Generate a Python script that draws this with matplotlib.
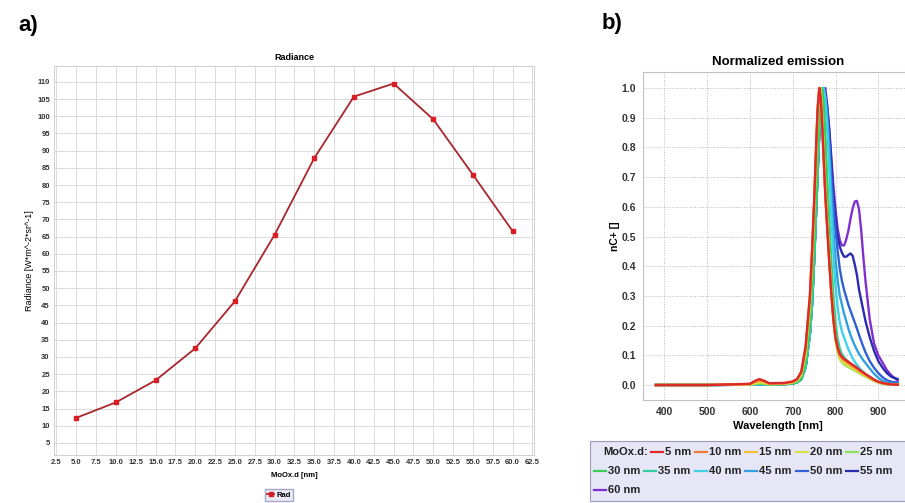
import numpy as np
import matplotlib
matplotlib.use('Agg')
import matplotlib.pyplot as plt
from matplotlib.lines import Line2D
from matplotlib.patches import Rectangle

plt.rcParams['font.family'] = ['Liberation Sans', 'DejaVu Sans']

# ---- panel a) radiance vs MoOx thickness
thick = [5, 10, 15, 20, 25, 30, 35, 40, 45, 50, 55, 60]
radiance = [12.3, 16.8, 23.2, 32.5, 46.2, 65.5, 87.8, 105.7, 109.5, 99.1, 83.0, 66.6]

# ---- panel b) normalized emission spectra
wl = [380, 500, 600, 612, 622, 632, 645, 680, 700, 710, 720, 730, 740, 745, 750, 755,
      758, 762, 765, 768, 772, 776, 780, 785, 790, 795, 800, 805, 810, 815, 820, 825,
      830, 835, 840, 845, 850, 855, 860, 865, 870, 880, 890, 900, 910, 920, 930, 945]

s5 = [0.000, 0.000, 0.004, 0.014, 0.020, 0.015, 0.006, 0.007, 0.012, 0.020, 0.045, 0.130,
      0.300, 0.450, 0.620, 0.820, 0.930, 1.000, 0.970, 0.900, 0.770, 0.640, 0.540, 0.420,
      0.310, 0.220, 0.160, 0.125, 0.105, 0.095, 0.088, 0.083, 0.078, 0.073, 0.068, 0.063,
      0.058, 0.052, 0.047, 0.042, 0.037, 0.028, 0.018, 0.011, 0.007, 0.004, 0.002, 0.001]
s10 = [0.000, 0.000, 0.003, 0.012, 0.017, 0.013, 0.005, 0.006, 0.011, 0.019, 0.043, 0.125,
       0.295, 0.445, 0.615, 0.815, 0.925, 1.000, 0.972, 0.905, 0.775, 0.645, 0.545, 0.425,
       0.312, 0.220, 0.158, 0.122, 0.102, 0.092, 0.085, 0.080, 0.075, 0.070, 0.065, 0.060,
       0.055, 0.050, 0.045, 0.040, 0.035, 0.026, 0.017, 0.010, 0.006, 0.004, 0.002, 0.001]
s15 = [0.000, 0.000, 0.003, 0.009, 0.013, 0.010, 0.004, 0.005, 0.010, 0.018, 0.040, 0.120,
       0.290, 0.440, 0.610, 0.810, 0.920, 1.000, 0.975, 0.910, 0.780, 0.650, 0.548, 0.428,
       0.315, 0.220, 0.155, 0.118, 0.097, 0.087, 0.080, 0.075, 0.070, 0.065, 0.060, 0.056,
       0.051, 0.046, 0.042, 0.037, 0.033, 0.024, 0.016, 0.010, 0.006, 0.003, 0.002, 0.001]
s20 = [0.000, 0.000, 0.002, 0.006, 0.009, 0.007, 0.003, 0.004, 0.009, 0.016, 0.037, 0.112,
       0.280, 0.430, 0.600, 0.800, 0.915, 1.000, 0.978, 0.915, 0.790, 0.660, 0.555, 0.432,
       0.318, 0.218, 0.150, 0.112, 0.090, 0.080, 0.073, 0.068, 0.063, 0.059, 0.055, 0.051,
       0.047, 0.042, 0.038, 0.034, 0.030, 0.022, 0.015, 0.009, 0.005, 0.003, 0.002, 0.001]
s25 = [0.000, 0.000, 0.002, 0.004, 0.006, 0.005, 0.003, 0.004, 0.008, 0.014, 0.032, 0.100,
       0.260, 0.400, 0.570, 0.770, 0.890, 0.990, 1.000, 0.940, 0.810, 0.680, 0.570, 0.445,
       0.328, 0.225, 0.152, 0.110, 0.087, 0.076, 0.069, 0.064, 0.060, 0.056, 0.052, 0.048,
       0.044, 0.040, 0.036, 0.032, 0.028, 0.021, 0.014, 0.009, 0.005, 0.003, 0.002, 0.001]
s30 = [0.000, 0.000, 0.001, 0.003, 0.004, 0.003, 0.002, 0.003, 0.006, 0.010, 0.022, 0.070,
       0.200, 0.310, 0.460, 0.640, 0.760, 0.900, 0.970, 1.000, 0.940, 0.810, 0.670, 0.510,
       0.370, 0.255, 0.175, 0.125, 0.097, 0.084, 0.076, 0.070, 0.065, 0.060, 0.056, 0.052,
       0.048, 0.043, 0.039, 0.034, 0.030, 0.022, 0.014, 0.009, 0.005, 0.003, 0.002, 0.001]
s35 = [0.000, 0.000, 0.001, 0.003, 0.004, 0.003, 0.002, 0.003, 0.006, 0.010, 0.021, 0.068,
       0.195, 0.300, 0.450, 0.630, 0.750, 0.890, 0.965, 1.000, 0.960, 0.840, 0.710, 0.560,
       0.420, 0.300, 0.210, 0.155, 0.122, 0.104, 0.093, 0.085, 0.078, 0.072, 0.066, 0.060,
       0.055, 0.049, 0.044, 0.039, 0.034, 0.025, 0.017, 0.011, 0.006, 0.004, 0.002, 0.001]
s40 = [0.000, 0.000, 0.001, 0.002, 0.003, 0.002, 0.002, 0.003, 0.005, 0.009, 0.020, 0.060,
       0.170, 0.270, 0.420, 0.600, 0.710, 0.850, 0.930, 0.980, 1.000, 0.960, 0.880, 0.740,
       0.580, 0.440, 0.330, 0.260, 0.210, 0.180, 0.160, 0.140, 0.120, 0.105, 0.090, 0.078,
       0.068, 0.059, 0.051, 0.044, 0.037, 0.027, 0.018, 0.011, 0.007, 0.004, 0.002, 0.001]
s45 = [0.000, 0.000, 0.001, 0.002, 0.003, 0.002, 0.002, 0.003, 0.005, 0.009, 0.020, 0.060,
       0.170, 0.270, 0.420, 0.600, 0.710, 0.850, 0.930, 0.980, 1.000, 0.970, 0.910, 0.790,
       0.650, 0.520, 0.420, 0.350, 0.300, 0.270, 0.240, 0.215, 0.190, 0.168, 0.150, 0.133,
       0.118, 0.105, 0.094, 0.083, 0.074, 0.055, 0.038, 0.024, 0.014, 0.008, 0.005, 0.003]
s50 = [0.000, 0.000, 0.001, 0.002, 0.003, 0.002, 0.002, 0.003, 0.005, 0.009, 0.020, 0.060,
       0.170, 0.270, 0.420, 0.600, 0.710, 0.850, 0.930, 0.980, 1.000, 0.980, 0.930, 0.830,
       0.710, 0.600, 0.520, 0.450, 0.390, 0.350, 0.320, 0.295, 0.270, 0.250, 0.230, 0.210,
       0.190, 0.168, 0.148, 0.128, 0.110, 0.080, 0.058, 0.040, 0.026, 0.016, 0.011, 0.008]
s55 = [0.000, 0.000, 0.001, 0.002, 0.003, 0.002, 0.002, 0.003, 0.005, 0.009, 0.020, 0.060,
       0.170, 0.270, 0.420, 0.600, 0.710, 0.850, 0.930, 0.980, 1.000, 0.980, 0.940, 0.860,
       0.750, 0.640, 0.560, 0.500, 0.465, 0.445, 0.432, 0.432, 0.438, 0.443, 0.435, 0.405,
       0.370, 0.320, 0.285, 0.250, 0.215, 0.160, 0.115, 0.080, 0.058, 0.040, 0.028, 0.020]
s60 = [0.000, 0.000, 0.001, 0.002, 0.003, 0.002, 0.002, 0.003, 0.005, 0.009, 0.020, 0.060,
       0.170, 0.270, 0.420, 0.600, 0.710, 0.850, 0.930, 0.975, 0.995, 1.000, 0.950, 0.870,
       0.770, 0.670, 0.590, 0.525, 0.488, 0.470, 0.470, 0.490, 0.520, 0.560, 0.595, 0.618,
       0.620, 0.590, 0.520, 0.430, 0.350, 0.220, 0.140, 0.100, 0.075, 0.050, 0.033, 0.015]

spectra = [s5, s10, s15, s20, s25, s30, s35, s40, s45, s50, s55, s60]
labels = ['5 nm', '10 nm', '15 nm', '20 nm', '25 nm', '30 nm', '35 nm', '40 nm',
          '45 nm', '50 nm', '55 nm', '60 nm']
colors = ['#e02828', '#f07a3c', '#f2c038', '#d8e048', '#90e060', '#38d050',
          '#30d0a0', '#40d0e8', '#30a0e0', '#3060d8', '#2c2cb0', '#8030d0']

W_PX, H_PX = 905, 503
fig = plt.figure(figsize=(9.05, 5.03), dpi=100)
fig.patch.set_facecolor('white')


def box(x0, y0, x1, y1):
    # pixel box (top-left origin) -> figure fraction rect
    return [x0 / W_PX, 1 - y1 / H_PX, (x1 - x0) / W_PX, (y1 - y0) / H_PX]


# ---------------- a)
ax1 = fig.add_axes(box(54, 66, 534, 455))
ax1.plot(thick, radiance, color='#a8262c', lw=1.3, marker='s', ms=3,
         mfc='#d81e24', mec='#d81e24', label='Rad')
ax1.set_xlim(2.2, 62.7)
ax1.set_ylim(1.5, 114.6)
ax1.set_xticks(np.arange(2.5, 62.6, 2.5))
ax1.set_xticklabels(['%.1f' % v for v in np.arange(2.5, 62.6, 2.5)])
ax1.set_yticks(np.arange(5, 111, 5))
ax1.grid(True, color='#dadada', lw=0.7)
ax1.set_axisbelow(True)
for s in ax1.spines.values():
    s.set_color('#d0d0d0')
    s.set_linewidth(0.7)
ax1.tick_params(length=0, labelsize=5.5, colors='#333333', pad=3)
for t in ax1.get_xticklabels() + ax1.get_yticklabels():
    t.set_fontweight('bold')
ax1.set_title('Radiance', fontsize=6.5, fontweight='bold', pad=4)
ax1.set_xlabel('MoOx.d [nm]', fontsize=5.5, fontweight='bold', labelpad=4)
ax1.set_ylabel('Radiance [W*m^-2*sr^-1]', fontsize=6.5, labelpad=2)
ax1.legend(loc='center', bbox_to_anchor=(279 / W_PX, 1 - 495 / H_PX),
           bbox_transform=fig.transFigure, handlelength=1.0,
           handletextpad=0.3, borderpad=0.3, fancybox=False,
           edgecolor='#a8a8c8', facecolor='#ececf8', framealpha=1,
           prop={'weight': 'bold', 'size': 5.5})

# ---------------- b)
ax2 = fig.add_axes(box(643, 72, 913, 400))
for i in range(len(spectra) - 1, -1, -1):
    ax2.plot(wl, spectra[i], color=colors[i], lw=1.7)
ax2.set_xlim(350, 981)
ax2.set_ylim(-0.0505, 1.054)
ax2.set_xticks([400, 500, 600, 700, 800, 900])
ax2.set_yticks(np.arange(0, 1.01, 0.1))
ax2.set_yticklabels(['%.1f' % v for v in np.arange(0, 1.01, 0.1)])
ax2.grid(True, color='#b8b8b8', lw=0.7, ls=':')
ax2.set_axisbelow(True)
for s in ax2.spines.values():
    s.set_color('#c0c0c0')
    s.set_linewidth(0.8)
ax2.tick_params(length=0, labelsize=7.5, colors='#333333', pad=5)
for t in ax2.get_xticklabels() + ax2.get_yticklabels():
    t.set_fontweight('bold')
ax2.set_title('Normalized emission', fontsize=9.5, fontweight='bold', pad=5)
ax2.set_xlabel('Wavelength [nm]', fontsize=8, fontweight='bold', labelpad=3)
ax2.set_ylabel('nC+ []', fontsize=7.5, fontweight='bold', labelpad=1)

# legend box for b), laid out row by row
fig.add_artist(Rectangle((590 / W_PX, 1 - 501 / H_PX), 330 / W_PX, 60 / H_PX,
                         transform=fig.transFigure, facecolor='#e6e6f6',
                         edgecolor='#9c9cb8', lw=0.8))
renderer = fig.canvas.get_renderer()
row_y = 452
t = fig.text(603 / W_PX, 1 - row_y / H_PX, 'MoOx.d:', fontsize=8,
             fontweight='bold', color='#222222', va='center')
cur = t.get_window_extent(renderer).x1 + 3
for lab, col in zip(labels, colors):
    tt = fig.text(0, 0, lab, fontsize=8, fontweight='bold', color='#222222', va='center')
    tw = tt.get_window_extent(renderer).width
    if cur + 15 + tw > 904:
        row_y += 19
        cur = 594
    fig.add_artist(Line2D([cur / W_PX, (cur + 12) / W_PX],
                          [1 - row_y / H_PX, 1 - row_y / H_PX],
                          transform=fig.transFigure, color=col, lw=1.6))
    tt.set_position(((cur + 14) / W_PX, 1 - row_y / H_PX))
    cur = cur + 14 + tw + 4

# panel letters
fig.text(28 / W_PX, 1 - 25 / H_PX, 'a)', fontsize=16, fontweight='bold', ha='center', va='center')
fig.text(612 / W_PX, 1 - 24 / H_PX, 'b)', fontsize=16, fontweight='bold', ha='center', va='center')

fig.savefig('out.png', dpi=100)
